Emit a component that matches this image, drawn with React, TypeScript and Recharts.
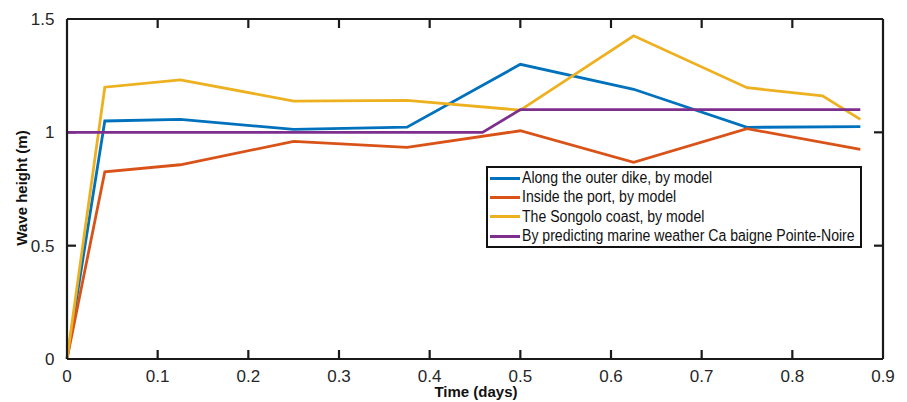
import React from 'react';
import { LineChart, Line, XAxis, YAxis } from 'recharts';

const modelTimes = [0, 0.0417, 0.125, 0.25, 0.375, 0.5, 0.625, 0.75, 0.875];
const outerDike = [0, 1.05, 1.057, 1.013, 1.023, 1.3, 1.19, 1.022, 1.025];
const insidePort = [0, 0.826, 0.857, 0.96, 0.934, 1.007, 0.868, 1.016, 0.925];
const songoloTimes = [0, 0.0417, 0.125, 0.25, 0.375, 0.5, 0.625, 0.75, 0.8333, 0.875];
const songolo = [0, 1.199, 1.231, 1.138, 1.141, 1.098, 1.426, 1.197, 1.161, 1.057];
const forecastTimes = [0, 0.0417, 0.125, 0.25, 0.375, 0.4583, 0.5, 0.625, 0.75, 0.875];
const forecast = [1, 1, 1, 1, 1, 1, 1.1, 1.1, 1.1, 1.1];

const xTicks = [0, 0.1, 0.2, 0.3, 0.4, 0.5, 0.6, 0.7, 0.8, 0.9];
const yTicks = [0, 0.5, 1, 1.5];
const X_DOMAIN = [0, 0.9];
const Y_DOMAIN = [0, 1.5];

const seriesNames = [
  'Along the outer dike, by model',
  'Inside the port, by model',
  'The Songolo coast, by model',
  'By predicting marine weather Ca baigne Pointe-Noire',
];
const seriesColors = ['#0072BD', '#D95319', '#EDB120', '#7E2F8E'];

const toPoints = (ts: number[], vs: number[]) => ts.map((t, i) => ({ t, v: vs[i] }));

const seriesData = [
  toPoints(modelTimes, outerDike),
  toPoints(modelTimes, insidePort),
  toPoints(songoloTimes, songolo),
  toPoints(forecastTimes, forecast),
];

// layout
const W = 907;
const H = 402;
const MARGIN = { top: 9, right: 4, bottom: 8, left: 7 };
const LEFT_W = 60;
const RIGHT_W = 20;
const TOP_H = 10;
const BOTTOM_H = 35;
const PLOT_W = W - MARGIN.left - MARGIN.right - LEFT_W - RIGHT_W;
const PLOT_H = H - MARGIN.top - MARGIN.bottom - TOP_H - BOTTOM_H;

const FONT = '"Liberation Sans", Arial, Helvetica, sans-serif';
const TICK_COLOR = '#262626';
const AXIS_COLOR = '#1a1a1a';
const TICK_LEN = 9;
const SW = 2.2;
const axisLineStyle = { stroke: AXIS_COLOR, strokeWidth: SW };

// inward tick length expressed in data units so the library scales place the marks
const DY = (TICK_LEN / PLOT_H) * (Y_DOMAIN[1] - Y_DOMAIN[0]);
const DX = (TICK_LEN / PLOT_W) * (X_DOMAIN[1] - X_DOMAIN[0]);

const innerX = xTicks.filter((t) => t > X_DOMAIN[0] && t < X_DOMAIN[1]);
const innerY = yTicks.filter((v) => v > Y_DOMAIN[0] && v < Y_DOMAIN[1]);

const tickMarks: { t: number; v: number }[][] = [
  ...innerX.map((t) => [{ t, v: Y_DOMAIN[0] }, { t, v: Y_DOMAIN[0] + DY }]),
  ...innerX.map((t) => [{ t, v: Y_DOMAIN[1] }, { t, v: Y_DOMAIN[1] - DY }]),
  ...innerY.map((v) => [{ t: X_DOMAIN[0], v }, { t: X_DOMAIN[0] + DX, v }]),
  ...innerY.map((v) => [{ t: X_DOMAIN[1], v }, { t: X_DOMAIN[1] - DX, v }]),
];

const fmt = (v: number) => (v === 0 ? '0' : String(v));

const BottomTick = (props: any) => {
  const { x, y, payload } = props;
  return (
    <text x={x} y={y + 23.3} textAnchor="middle" fontFamily={FONT} fontSize={17} fill={TICK_COLOR}>
      {fmt(payload.value)}
    </text>
  );
};

const LeftTick = (props: any) => {
  const { x, y, payload } = props;
  return (
    <text x={x - 12.5} y={y + 6.1} textAnchor="end" fontFamily={FONT} fontSize={17} fill={TICK_COLOR}>
      {fmt(payload.value)}
    </text>
  );
};

const LegendBox = () => (
  <div
    style={{
      position: 'absolute',
      left: 486,
      top: 166,
      width: 376,
      height: 82,
      boxSizing: 'border-box',
      border: '2.2px solid #111',
      background: '#fff',
      padding: '0.5px 4px 0 2px',
      fontFamily: FONT,
      fontSize: 16,
      color: '#111',
    }}
  >
    {seriesNames.map((n, i) => (
      <div key={n} style={{ display: 'flex', alignItems: 'center', height: 19.3, whiteSpace: 'nowrap' }}>
        <div style={{ width: 30, height: 3, background: seriesColors[i], marginRight: 2, flex: 'none' }} />
        <span style={{ display: 'inline-block', transform: 'scaleX(0.88)', transformOrigin: 'left center' }}>{n}</span>
      </div>
    ))}
  </div>
);

export default function App() {
  return (
    <div style={{ position: 'absolute', left: 0, top: 0, width: W, height: H, background: '#fff' }}>
      <LineChart width={W} height={H} margin={MARGIN}>
        <XAxis
          xAxisId="top"
          orientation="top"
          type="number"
          domain={X_DOMAIN}
          height={TOP_H}
          tick={false}
          axisLine={axisLineStyle}
          tickLine={false}
        />
        <YAxis
          yAxisId="right"
          orientation="right"
          type="number"
          domain={Y_DOMAIN}
          width={RIGHT_W}
          tick={false}
          axisLine={axisLineStyle}
          tickLine={false}
        />
        <XAxis
          xAxisId="bottom"
          orientation="bottom"
          type="number"
          dataKey="t"
          domain={X_DOMAIN}
          ticks={xTicks}
          interval={0}
          height={BOTTOM_H}
          tickSize={0}
          tickMargin={0}
          tick={BottomTick}
          axisLine={axisLineStyle}
          tickLine={false}
          label={() => (
            <text x={476} y={393} textAnchor="middle" dominantBaseline="middle" fontFamily={FONT} fontSize={15} fontWeight="bold" fill="#111">
              Time (days)
            </text>
          )}
        />
        <YAxis
          yAxisId="left"
          orientation="left"
          type="number"
          dataKey="v"
          domain={Y_DOMAIN}
          ticks={yTicks}
          interval={0}
          width={LEFT_W}
          tickSize={0}
          tickMargin={0}
          tick={LeftTick}
          axisLine={axisLineStyle}
          tickLine={false}
          label={() => (
            <text
              x={23}
              y={188}
              textAnchor="middle"
              dominantBaseline="middle"
              transform="rotate(-90, 23, 188)"
              fontFamily={FONT}
              fontSize={15}
              fontWeight="bold"
              fill="#111"
            >
              Wave height (m)
            </text>
          )}
        />
        {tickMarks.map((seg, i) => (
          <Line
            key={`tick-${i}`}
            data={seg}
            xAxisId="bottom"
            yAxisId="left"
            dataKey="v"
            stroke={AXIS_COLOR}
            strokeWidth={SW}
            dot={false}
            activeDot={false}
            legendType="none"
            isAnimationActive={false}
          />
        ))}
        {seriesData.map((d, i) => (
          <Line
            key={seriesNames[i]}
            data={d}
            xAxisId="bottom"
            yAxisId="left"
            dataKey="v"
            name={seriesNames[i]}
            stroke={seriesColors[i]}
            strokeWidth={2.8}
            dot={false}
            activeDot={false}
            isAnimationActive={false}
            strokeLinejoin="miter"
          />
        ))}
      </LineChart>
      <LegendBox />
    </div>
  );
}
